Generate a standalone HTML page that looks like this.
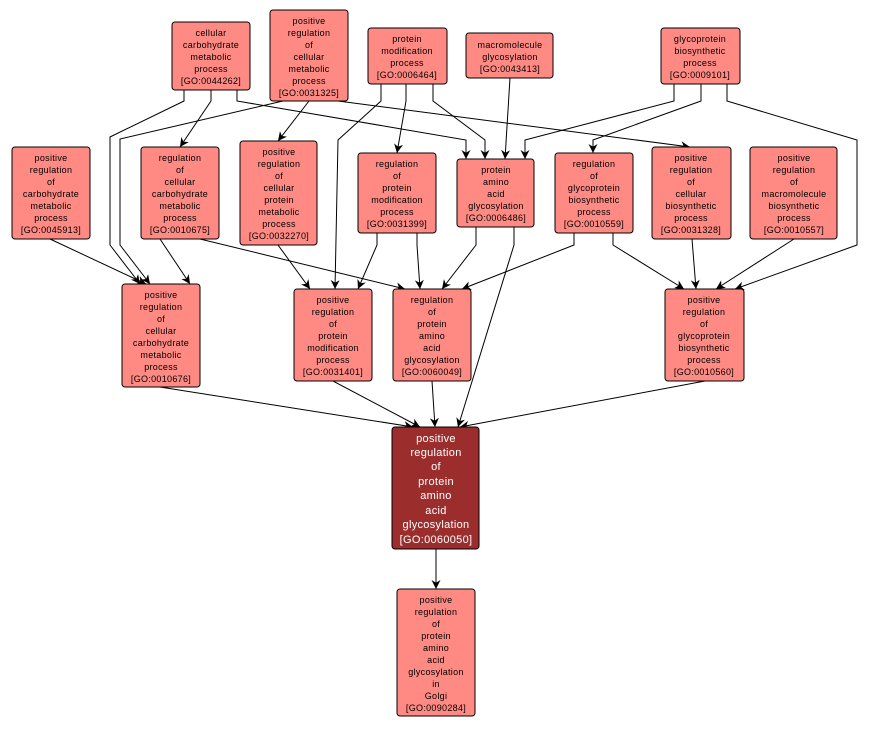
<!DOCTYPE html>
<html><head><meta charset="utf-8"><style>
body{margin:0;background:#fff}
svg text{font-family:"Liberation Sans",Arial,sans-serif;font-size:9px;fill:#000;text-anchor:middle;letter-spacing:0.3px}
.n{fill:#ff8a84;stroke:#000;stroke-width:1}
.e{fill:none;stroke:#000;stroke-width:1}
</style></head><body>
<svg width="871" height="727" viewBox="0 0 871 727" xmlns="http://www.w3.org/2000/svg">
<defs><marker id="a" viewBox="0 0 10 10" refX="10" refY="5" markerWidth="9" markerHeight="9" orient="auto"><path d="M0,0L10,5L0,10L3,5z" fill="#000"/></marker></defs>
<g class="e" marker-end="url(#a)">
<polyline points="184,90 184,101 110,137 110,245 140,284"/>
<polyline points="283,101 120,139 120,245 150,284"/>
<polyline points="211,90 211,101 180,147"/>
<polyline points="309,101 278,141"/>
<polyline points="237,90 237,101 466,140 466,159"/>
<polyline points="338,101 690,147"/>
<polyline points="433,84 433,101 485,140 485,159"/>
<polyline points="406,84 406,101 397,153"/>
<polyline points="381,84 381,101 338,140 335,289"/>
<polyline points="510,78 505,159"/>
<polyline points="674,84 674,101 525,140 525,159"/>
<polyline points="701,84 701,101 593,140 593,153"/>
<polyline points="727,84 727,101 857,140 857,245 735,289"/>
<polyline points="50,239 146,284"/>
<polyline points="160,239 190,284"/>
<polyline points="200,239 405,289"/>
<polyline points="278,245 310,289"/>
<polyline points="377,233 377,245 358,289"/>
<polyline points="417,233 417,245 420,289"/>
<polyline points="476,227 476,245 442,289"/>
<polyline points="514,227 514,245 458,427"/>
<polyline points="574,233 574,245 462,289"/>
<polyline points="613,233 613,245 684,289"/>
<polyline points="692,239 696,289"/>
<polyline points="794,239 716,289"/>
<polyline points="160,387 413,427"/>
<polyline points="333,381 420,427"/>
<polyline points="432,381 435,427"/>
<polyline points="705,381 460,427"/>
<polyline points="436,549 436,589"/>
</g>
<g>
<rect class="n" x="172" y="22" width="78" height="68" rx="3"/>
<text x="211" y="36">cellular</text><text x="211" y="48">carbohydrate</text><text x="211" y="60">metabolic</text><text x="211" y="72">process</text><text x="211" y="84">[GO:0044262]</text>
<rect class="n" x="270" y="10" width="78" height="91" rx="3"/>
<text x="309" y="24">positive</text><text x="309" y="36">regulation</text><text x="309" y="48">of</text><text x="309" y="60">cellular</text><text x="309" y="72">metabolic</text><text x="309" y="84">process</text><text x="309" y="96">[GO:0031325]</text>
<rect class="n" x="368" y="28" width="79" height="56" rx="3"/>
<text x="407" y="42">protein</text><text x="407" y="54">modification</text><text x="407" y="66">process</text><text x="407" y="78">[GO:0006464]</text>
<rect class="n" x="466" y="33" width="87" height="45" rx="3"/>
<text x="510" y="48">macromolecule</text><text x="510" y="60">glycosylation</text><text x="510" y="72">[GO:0043413]</text>
<rect class="n" x="661" y="28" width="79" height="56" rx="3"/>
<text x="700" y="42">glycoprotein</text><text x="700" y="54">biosynthetic</text><text x="700" y="66">process</text><text x="700" y="78">[GO:0009101]</text>

<rect class="n" x="12" y="147" width="78" height="92" rx="3"/>
<text x="51" y="161">positive</text><text x="51" y="173">regulation</text><text x="51" y="185">of</text><text x="51" y="197">carbohydrate</text><text x="51" y="209">metabolic</text><text x="51" y="221">process</text><text x="51" y="233">[GO:0045913]</text>
<rect class="n" x="141" y="147" width="78" height="92" rx="3"/>
<text x="180" y="161">regulation</text><text x="180" y="173">of</text><text x="180" y="185">cellular</text><text x="180" y="197">carbohydrate</text><text x="180" y="209">metabolic</text><text x="180" y="221">process</text><text x="180" y="233">[GO:0010675]</text>
<rect class="n" x="240" y="141" width="77" height="104" rx="3"/>
<text x="279" y="155">positive</text><text x="279" y="167">regulation</text><text x="279" y="179">of</text><text x="279" y="191">cellular</text><text x="279" y="203">protein</text><text x="279" y="215">metabolic</text><text x="279" y="227">process</text><text x="279" y="239">[GO:0032270]</text>
<rect class="n" x="358" y="153" width="78" height="80" rx="3"/>
<text x="397" y="167">regulation</text><text x="397" y="179">of</text><text x="397" y="191">protein</text><text x="397" y="203">modification</text><text x="397" y="215">process</text><text x="397" y="227">[GO:0031399]</text>
<rect class="n" x="457" y="159" width="77" height="68" rx="3"/>
<text x="496" y="173">protein</text><text x="496" y="185">amino</text><text x="496" y="197">acid</text><text x="496" y="209">glycosylation</text><text x="496" y="221">[GO:0006486]</text>
<rect class="n" x="555" y="153" width="78" height="80" rx="3"/>
<text x="594" y="167">regulation</text><text x="594" y="179">of</text><text x="594" y="191">glycoprotein</text><text x="594" y="203">biosynthetic</text><text x="594" y="215">process</text><text x="594" y="227">[GO:0010559]</text>
<rect class="n" x="652" y="147" width="79" height="92" rx="3"/>
<text x="691" y="161">positive</text><text x="691" y="173">regulation</text><text x="691" y="185">of</text><text x="691" y="197">cellular</text><text x="691" y="209">biosynthetic</text><text x="691" y="221">process</text><text x="691" y="233">[GO:0031328]</text>
<rect class="n" x="750" y="147" width="87" height="92" rx="3"/>
<text x="794" y="161">positive</text><text x="794" y="173">regulation</text><text x="794" y="185">of</text><text x="794" y="197">macromolecule</text><text x="794" y="209">biosynthetic</text><text x="794" y="221">process</text><text x="794" y="233">[GO:0010557]</text>

<rect class="n" x="122" y="284" width="78" height="103" rx="3"/>
<text x="161" y="298">positive</text><text x="161" y="310">regulation</text><text x="161" y="322">of</text><text x="161" y="334">cellular</text><text x="161" y="346">carbohydrate</text><text x="161" y="358">metabolic</text><text x="161" y="370">process</text><text x="161" y="382">[GO:0010676]</text>
<rect class="n" x="294" y="289" width="78" height="92" rx="3"/>
<text x="333" y="303">positive</text><text x="333" y="315">regulation</text><text x="333" y="327">of</text><text x="333" y="339">protein</text><text x="333" y="351">modification</text><text x="333" y="363">process</text><text x="333" y="375">[GO:0031401]</text>
<rect class="n" x="393" y="289" width="78" height="92" rx="3"/>
<text x="432" y="303">regulation</text><text x="432" y="315">of</text><text x="432" y="327">protein</text><text x="432" y="339">amino</text><text x="432" y="351">acid</text><text x="432" y="363">glycosylation</text><text x="432" y="375">[GO:0060049]</text>
<rect class="n" x="665" y="289" width="79" height="92" rx="3"/>
<text x="704" y="303">positive</text><text x="704" y="315">regulation</text><text x="704" y="327">of</text><text x="704" y="339">glycoprotein</text><text x="704" y="351">biosynthetic</text><text x="704" y="363">process</text><text x="704" y="375">[GO:0010560]</text>

<rect x="392" y="427" width="87" height="122" rx="3" fill="#9b2d2d" stroke="#000"/>
<g><text x="436" y="442" style="fill:#fff;font-size:11px">positive</text><text x="436" y="456" style="fill:#fff;font-size:11px">regulation</text><text x="436" y="470" style="fill:#fff;font-size:11px">of</text><text x="436" y="485" style="fill:#fff;font-size:11px">protein</text><text x="436" y="499" style="fill:#fff;font-size:11px">amino</text><text x="436" y="514" style="fill:#fff;font-size:11px">acid</text><text x="436" y="528" style="fill:#fff;font-size:11px">glycosylation</text><text x="436" y="543" style="fill:#fff;font-size:11px">[GO:0060050]</text></g>

<rect class="n" x="397" y="589" width="78" height="127" rx="3"/>
<text x="436" y="603">positive</text><text x="436" y="615">regulation</text><text x="436" y="627">of</text><text x="436" y="639">protein</text><text x="436" y="651">amino</text><text x="436" y="663">acid</text><text x="436" y="675">glycosylation</text><text x="436" y="687">in</text><text x="436" y="699">Golgi</text><text x="436" y="711">[GO:0090284]</text>
</g>
</svg>
</body></html>
